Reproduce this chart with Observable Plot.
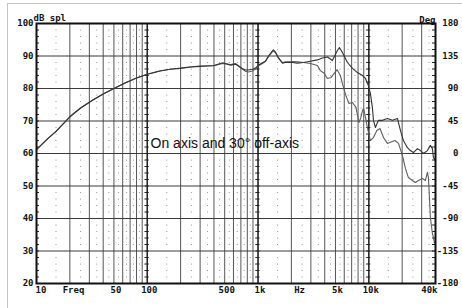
<!DOCTYPE html>
<html><head><meta charset="utf-8">
<script src="https://cdn.jsdelivr.net/npm/d3@7"></script>
<script src="https://cdn.jsdelivr.net/npm/@observablehq/plot@0.6"></script>
<style>
body{margin:0;background:#fff;}
#wrap{position:relative;width:462px;height:308px;overflow:hidden;}
#border{position:absolute;left:7px;top:3px;width:470px;height:330px;border:1px solid #c4c4c4;pointer-events:none;}
</style>
</head><body><div id="wrap"><div id="border"></div><div id="chart"></div></div>
<script>
// On-axis response (Hz, dB SPL)
const onAxisFreq = [10,12.5,15,20,25,32,40,50,63,80,100,130,160,200,250,300,400,480,564,625,665,723,770,819,890,948,1009,1097,1167,1242,1350,1378,1436,1528,1660,1767,2043,2268,2570,2972,3436,3811,4227,4690,5206,5428,5777,6412,7117,7900,8770,9330,9910,10330,10770,11010,11470,12200,13270,14720,16340,18130,19290,20520,22300,23730,25270,27460,29220,31100,33810,35970,37500,38300,39900];
const onAxisDb = [61.2,64.4,66.8,71.3,74,76.4,78.3,80,81.7,83.2,84.4,85.4,85.9,86.2,86.6,86.8,87.1,87.9,87.2,87.5,86.9,86.1,85.7,85.7,85.9,86.3,87.2,87.9,88.4,90,91.6,91.9,91.2,89.4,87.8,88,88,87.8,88,88.4,88.8,89.4,89.7,88.6,91.7,92.6,91.1,88,86.2,84.9,84,83.1,80.9,78.5,74.2,70.2,68,70.2,70.2,70.8,70.2,70.8,67.1,64,61.8,60.9,60.3,61.5,60.9,60,60.9,62.5,61.5,58.8,57.8];
// 30 degree off-axis response (Hz, dB SPL)
const offAxisFreq = [10,12.5,15,20,25,32,40,50,63,80,100,130,160,200,250,300,400,480,564,625,665,723,770,819,890,948,1009,1097,1167,1242,1350,1378,1436,1528,1660,1767,2043,2268,2570,2972,3436,3656,3970,4227,4570,4930,5170,5540,5777,6210,6630,7117,7660,7900,8150,8470,8770,8980,9330,9700,10330,11010,11830,12600,13590,14720,15460,17200,18530,20100,21400,22770,24750,26330,28040,30480,32430,33810,34530,35240,35970,37500,38300,39100,39900];
const offAxisDb = [61.2,64.4,66.8,71.3,74,76.4,78.3,80,81.7,83.2,84.4,85.4,85.9,86.3,86.7,86.9,87.0,87.7,87.4,87.7,87.0,86.0,85.3,85.1,85.4,86.0,87.0,87.7,88.4,89.8,91.3,91.6,91.0,89.4,88.0,88.2,88.3,88.2,88.0,87.7,87.1,85.5,84.6,83.1,83.4,84.9,85.8,84.0,81.5,77.8,75.4,75.7,74.2,71.7,69.5,71.1,73.2,73.8,71.1,68,64,64.9,67.1,67.7,64.9,63.1,63.4,64,63.1,59.4,55.4,52.6,51.7,51.1,51.7,52.3,51.7,54.2,52.6,46.5,40.3,35.4,34.2,32.6,32.3];

const dbTicks = [20,30,40,50,60,70,80,90,100];
const degTicks = [180,135,90,45,0,-45,-90,-135,-180];
const freqTicks = [10,50,100,500,1000,5000,10000,40000];
const freqTickLabels = ["10","50","100","500","1k","5k","10k","40k"];
const unitLabels = [{f:21.6,t:"Freq"},{f:2370,t:"Hz"}];
const annotation = "On axis and 30° off-axis";
const leftTitle = "dB spl";
const rightTitle = "Deg";

// grid helpers (structure of a log grid)
const decades = [10,100,1000,10000];
const solidX = [], dottedX = [];
for (const d of decades) {
  for (let m = 1; m <= 9; m++) { const v = d*m; if (v <= 40000) solidX.push(v); }
  for (let m = 1.5; m < 10; m += 1) { const v = d*m; if (v < 40000) dottedX.push(v); }
}
const minorDb = d3.range(22, 100, 2).filter(v => v % 10 !== 0);
const dotGrid = dottedX.flatMap(f => minorDb.map(v => ({f, v})));
const tickDb = d3.range(22, 100, 2);
const decadeLines = [100,1000,10000];
const decadeTicks = decadeLines.flatMap(f => tickDb.map(v => ({f, v})));
const degToDb = d => 60 + d * 80 / 360;

const onData = onAxisFreq.map((f,i) => ({f, v: onAxisDb[i]}));
const offData = offAxisFreq.map((f,i) => ({f, v: offAxisDb[i]}));
const tickData = freqTicks.map((f,i) => ({f, t: freqTickLabels[i]}));

const mono = "DejaVu Sans Mono";
const lab = {fontFamily: mono, fontWeight: "bold", fontSize: 9, fill: "#111"};

const chart = Plot.plot({
  width: 462, height: 308,
  marginLeft: 36, marginRight: 27, marginTop: 23, marginBottom: 25,
  style: {background: "transparent", fontFamily: mono},
  x: {type: "log", domain: [10, 40000], axis: null},
  y: {domain: [20, 100], axis: null},
  marks: [
    Plot.dot(dotGrid, {x: "f", y: "v", r: 0.6, fill: "#8a8a8a", stroke: null}),
    Plot.ruleX(solidX, {stroke: "#555", strokeWidth: 1}),
    Plot.ruleX(decadeLines, {stroke: "#222", strokeWidth: 1.4}),
    Plot.ruleY(dbTicks, {stroke: "#3a3a3a", strokeWidth: 1}),
    Plot.ruleY(decadeTicks, {y: "v", x1: "f", x2: "f", insetLeft: -2, insetRight: -2, stroke: "#222", strokeWidth: 1}),
    Plot.ruleY(tickDb, {x1: 10, x2: 10, insetRight: -3, stroke: "#222"}),
    Plot.ruleY(tickDb, {x1: 40000, x2: 40000, insetLeft: -3, stroke: "#222"}),
    Plot.line(offData, {x: "f", y: "v", stroke: "#5e5e5e", strokeWidth: 1.1}),
    Plot.line(onData, {x: "f", y: "v", stroke: "#333", strokeWidth: 1.1}),
    Plot.frame({stroke: "#111", strokeWidth: 2}),
    Plot.text(dbTicks, {y: d => d, frameAnchor: "left", dx: -3, textAnchor: "end", text: d => String(d), ...lab}),
    Plot.text(degTicks, {y: degToDb, frameAnchor: "right", dx: 23, textAnchor: "end", text: d => String(d), ...lab}),
    Plot.text(tickData.slice(0,1), {x: "f", frameAnchor: "bottom", dy: 3, lineAnchor: "top", textAnchor: "start", dx: -1, text: "t", ...lab}),
    Plot.text(tickData.slice(1,-1), {x: "f", frameAnchor: "bottom", dy: 3, lineAnchor: "top", dx: 2, text: "t", ...lab}),
    Plot.text(tickData.slice(-1), {x: "f", frameAnchor: "bottom", dy: 3, lineAnchor: "top", textAnchor: "end", dx: 2, text: "t", ...lab}),
    Plot.text(unitLabels, {x: "f", frameAnchor: "bottom", dy: 3, lineAnchor: "top", text: "t", ...lab}),
    Plot.text([leftTitle], {frameAnchor: "top-left", dx: -3, dy: -9, textAnchor: "start", text: d => d, ...lab}),
    Plot.text([rightTitle], {frameAnchor: "top-right", dx: 0, dy: -7, textAnchor: "end", text: d => d, ...lab}),
    Plot.text([annotation], {x: 107, y: 63.1, textAnchor: "start", text: d => d, fontFamily: "Liberation Sans", fontSize: 14, fill: "#111"})
  ]
});
document.getElementById("chart").appendChild(chart);
</script>
</body></html>
